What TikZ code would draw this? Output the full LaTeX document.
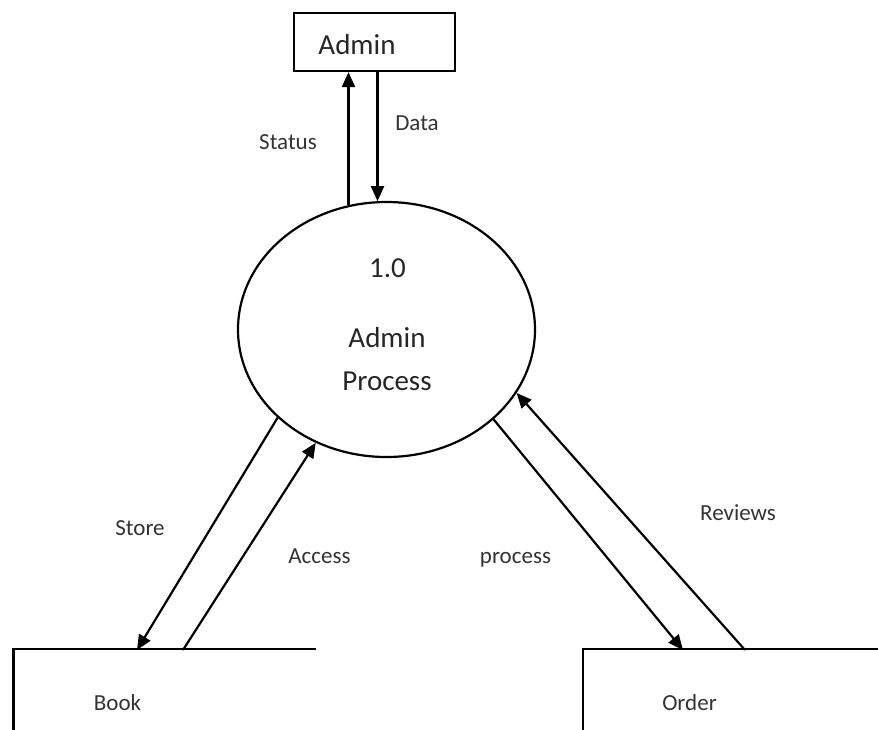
\documentclass[tikz,border=0pt]{standalone}
\usepackage{fontspec}
\setmainfont{Carlito}
\usetikzlibrary{arrows, arrows.meta}
\usetikzlibrary{shapes.geometric}

\begin{document}
\begin{tikzpicture}[x=1pt, y=-1pt, line width=2.2pt,
      flow/.style={-{Triangle[length=15pt, width=13pt]}},
      lbl/.style={anchor=base, text=black!80, font=\fontsize{23}{27}\selectfont},
      big/.style={anchor=base, text=black!85, font=\fontsize{29}{34}\selectfont},
      store/.style={minimum width=300pt, minimum height=100pt, inner sep=0pt}]
      \useasboundingbox (0,0) rectangle (878,729);

      \node[draw, minimum width=161pt, minimum height=58pt, inner sep=0pt] (admin) at (374.5,42) {};
      \node[big] (admintxt) at (357,54) {Admin};
      \node[ellipse, draw, minimum width=297pt, minimum height=255pt, inner sep=0pt] (proc) at (386.5,329.5) {};
      \node[big] (procnum) at (387.5,277) {1.0};
      \node[big] (procname) at (387,347) {Admin};
      \node[big] (proctype) at (387,390) {Process};
      \node[store] (book) at (164.5,700) {};
      \node[lbl] (booktxt) at (117.5,710) {Book};
      \node[store] (order) at (734,700) {};
      \node[lbl] (ordertxt) at (689.5,710) {Order};

      \coordinate (storeend) at (137,650);
      \coordinate (accessstart) at (183,650);
      \coordinate (processend) at (683,650);
      \coordinate (reviewsstart) at (745,650);

      \draw[line width=2.6pt] (book.south west) |- (book.north east);
      \draw[line width=2.6pt] (order.south west) |- (order.north east);

      \draw[flow] (proc.107) -- (proc.107 |- admin.south);
      \draw[flow] (admin.south -| proc.94) -- (proc.94);
      \draw[flow] (proc.219) -- (storeend);
      \draw[flow] (accessstart) -- (proc.238);
      \draw[flow] (proc.320) -- (processend);
      \draw[flow] (reviewsstart) -- (proc.334);

      \node[lbl] (status) at (288,149) {Status};
      \node[lbl] (data) at (417,130) {Data};
      \node[lbl] (storelbl) at (140,535) {Store};
      \node[lbl] (access) at (319.5,563) {Access};
      \node[lbl] (process) at (515.5,563) {process};
      \node[lbl] (reviews) at (738,520) {Reviews};
    \end{tikzpicture}
\end{document}
